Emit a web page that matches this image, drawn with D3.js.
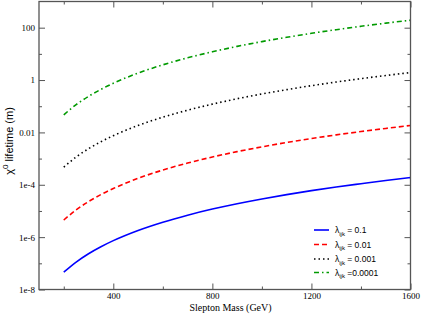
<!DOCTYPE html>
<html><head><meta charset="utf-8">
<script src="https://cdn.jsdelivr.net/npm/d3@7"></script>
<style>body{margin:0;background:#fff}svg{display:block}</style>
</head><body>
<svg id="c" width="421" height="315"></svg>
<script>
const masses = [200,250,300,350,400,500,600,700,800,900,1000,1100,1200,1300,1400,1500,1600];
const lam01   = [4.6e-8,1.12e-7,2.33e-7,4.31e-7,7.36e-7,1.80e-6,3.73e-6,6.90e-6,1.18e-5,1.89e-5,2.88e-5,4.21e-5,5.96e-5,8.21e-5,1.10e-4,1.46e-4,1.88e-4];
const lam001  = [4.5e-6,1.10e-5,2.28e-5,4.22e-5,7.2e-5,1.76e-4,3.65e-4,6.75e-4,1.15e-3,1.85e-3,2.81e-3,4.12e-3,5.83e-3,8.03e-3,1.08e-2,1.42e-2,1.84e-2];
const lam0001 = [4.7e-4,1.15e-3,2.38e-3,4.41e-3,7.5e-3,1.84e-2,3.81e-2,7.05e-2,0.120,0.193,0.294,0.430,0.609,0.839,1.13,1.49,1.93];
const lam00001= [0.047,0.115,0.238,0.441,0.752,1.84,3.81,7.05,12.0,19.3,29.4,43.0,60.9,83.9,113,149,193];
const seriesNames = ["0.1","0.01","0.001","0.0001"];
const xMajor = [400,800,1200,1600];
const xMinor = [200,600,1000,1400];
const yMajor = [1e-8,1e-6,1e-4,1e-2,1,100];
const yMajorLabels = ["1e-8","1e-6","1e-4","0.01","1","100"];
const yMinor = [1e-7,1e-5,1e-3,1e-1,10];

const svg = d3.select("#c");
const L=39, R=410.5, T=1.5, B=289.5;
const x = d3.scaleLinear().domain([100,1600]).range([L,R]);
const y = d3.scaleLog().domain([1e-8,1e3]).range([B,T]);
const axisCol = "#555";
const serif = "'Liberation Serif','DejaVu Serif',serif";
const sans = "'Liberation Sans',Arial,sans-serif";

const styles = [
  {data:lam01, color:"#0000ff", dash:null, w:1.6},
  {data:lam001, color:"#ff0000", dash:"5,3", w:1.6},
  {data:lam0001, color:"#000000", dash:"1.5,3", w:1.6},
  {data:lam00001, color:"#009a00", dash:"5,3,1.5,3", w:1.6}
];
const line = d3.line().x(d=>x(d[0])).y(d=>y(d[1])).curve(d3.curveMonotoneX);
styles.forEach(s=>{
  svg.append("path").datum(masses.map((m,i)=>[m,s.data[i]]))
    .attr("d",line).attr("fill","none").attr("stroke",s.color)
    .attr("stroke-width",s.w).attr("stroke-dasharray",s.dash);
});

function tickAxes(){
  const g = svg.append("g");
  const bx = d3.axisBottom(x).tickValues(xMajor).tickSize(-6).tickFormat(d3.format("d")).tickPadding(3);
  const bxm = d3.axisBottom(x).tickValues(xMinor).tickSize(-3).tickFormat("");
  const tx = d3.axisTop(x).tickValues(xMajor).tickSize(-6).tickFormat("");
  const txm = d3.axisTop(x).tickValues(xMinor).tickSize(-3).tickFormat("");
  const ly = d3.axisLeft(y).tickValues(yMajor).tickSize(-6).tickFormat((d,i)=>yMajorLabels[i]).tickPadding(4);
  const lym = d3.axisLeft(y).tickValues(yMinor).tickSize(-3).tickFormat("");
  const ry = d3.axisRight(y).tickValues(yMajor).tickSize(-6).tickFormat("");
  const rym = d3.axisRight(y).tickValues(yMinor).tickSize(-3).tickFormat("");
  [[bx,`translate(0,${B})`],[bxm,`translate(0,${B})`],[tx,`translate(0,${T})`],[txm,`translate(0,${T})`],
   [ly,`translate(${L},0)`],[lym,`translate(${L},0)`],[ry,`translate(${R},0)`],[rym,`translate(${R},0)`]].forEach(([a,t])=>{
    const gg = g.append("g").attr("transform",t).call(a);
    gg.select(".domain").remove();
    gg.selectAll("line").attr("stroke",axisCol).attr("stroke-width",1);
    gg.selectAll("text").attr("font-family",serif).attr("font-size",9).attr("fill","#000");
  });
  g.append("rect").attr("x",L).attr("y",T).attr("width",R-L).attr("height",B-T)
    .attr("fill","none").attr("stroke",axisCol).attr("stroke-width",1.3);
}
tickAxes();

svg.append("text").attr("x",230.5).attr("y",311).attr("text-anchor","middle")
  .attr("font-family",serif).attr("font-size",10).text("Slepton Mass (GeV)");

const yl = svg.append("text").attr("transform","translate(13,141) rotate(-90)")
  .attr("text-anchor","middle").attr("font-family",sans).attr("font-size",11);
yl.append("tspan").text("χ");
yl.append("tspan").attr("dy",-5).attr("font-size",8).text("0");
yl.append("tspan").attr("dy",5).text(" lifetime (m)");

const lg = svg.append("g");
const rows = [230,244.5,259,272.5];
styles.forEach((s,i)=>{
  lg.append("line").attr("x1",314).attr("x2",329).attr("y1",rows[i]).attr("y2",rows[i])
    .attr("stroke",s.color).attr("stroke-width",s.w).attr("stroke-dasharray",s.dash);
  const t = lg.append("text").attr("x",335).attr("y",rows[i]+3).attr("font-family",sans).attr("font-size",8.5);
  t.append("tspan").text("λ");
  t.append("tspan").attr("dy",2.5).attr("font-size",6).text("ijk");
  t.append("tspan").attr("dy",-2.5).text(i===3 ? " =" + seriesNames[i] : " = " + seriesNames[i]);
});
</script>
</body></html>
